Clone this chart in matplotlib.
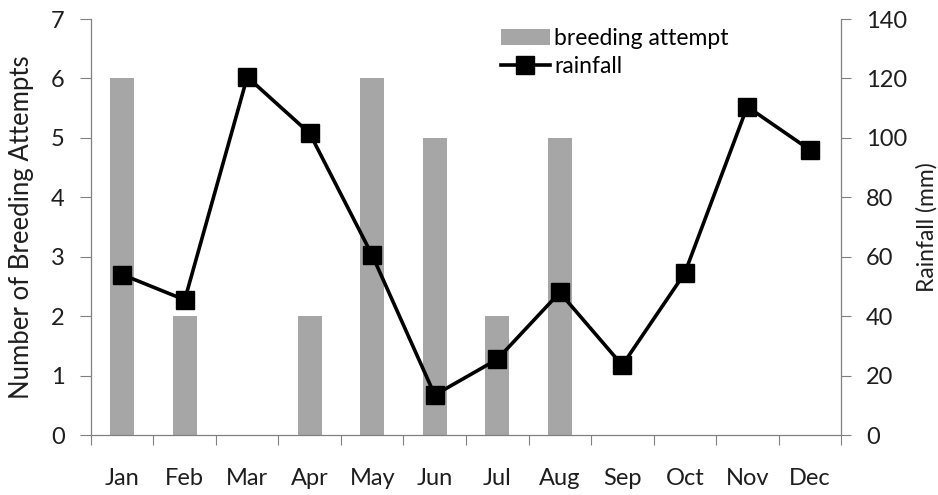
import numpy as np
import matplotlib
matplotlib.use("Agg")
import matplotlib.pyplot as plt

months = ["Jan", "Feb", "Mar", "Apr", "May", "Jun",
          "Jul", "Aug", "Sep", "Oct", "Nov", "Dec"]
breeding = [6, 2, 0, 2, 6, 5, 2, 5, 0, 0, 0, 0]
rainfall = [54, 45.5, 120.5, 101.5, 60.5, 13.5, 25.5, 48, 23.5, 54.5, 110.5, 96]

plt.rcParams["font.family"] = ["Lato", "DejaVu Sans"]
TXT = "#1e1e1e"

fig = plt.figure(figsize=(9.38, 4.95), dpi=100)
ax = fig.add_axes([0.097, 0.121, 0.7996, 0.8406])
x = np.arange(len(months))

ax.bar(x, breeding, width=0.38, color="#a6a6a6", label="breeding attempt", zorder=1)
ax.set_xlim(-0.5, len(months) - 0.5)
ax.set_ylim(0, 7)
ax.set_yticks(range(0, 8))
ax.set_ylabel("Number of Breeding Attempts", fontsize=18.5, labelpad=12, color=TXT)

ax2 = ax.twinx()
ax2.plot(x, rainfall, color="black", lw=2.6, marker="s", markersize=13.5,
         label="rainfall", zorder=3)
ax2.set_ylim(0, 140)
ax2.set_yticks(range(0, 141, 20))
ax2.set_ylabel("Rainfall (mm)", fontsize=16.5, labelpad=6, color=TXT)

# category boundaries as ticks, labels centred between
ax.set_xticks(np.arange(-0.5, len(months), 1.0))
ax.set_xticklabels([])
ax.set_xticks(x, minor=True)
ax.set_xticklabels(months, minor=True, fontsize=17, color=TXT)
ax.tick_params(axis="x", which="major", direction="out", length=7, color="#808080")
ax.tick_params(axis="x", which="minor", length=0, pad=24)
ax.tick_params(axis="y", direction="out", length=8, color="#808080", labelsize=17,
               labelcolor=TXT, pad=11)
ax2.tick_params(axis="y", direction="out", length=7, color="#808080", labelsize=17,
                labelcolor=TXT, pad=11)

for a in (ax, ax2):
    a.spines["top"].set_visible(False)
    for s in ("left", "right", "bottom"):
        a.spines[s].set_color("#808080")
        a.spines[s].set_linewidth(0.9)
ax.spines["right"].set_visible(False)
ax2.spines["left"].set_visible(False)
ax2.spines["bottom"].set_visible(False)

h1, l1 = ax.get_legend_handles_labels()
h2, l2 = ax2.get_legend_handles_labels()
ax2.legend(h1 + h2, l1 + l2, loc="upper left", bbox_to_anchor=(0.535, 1.0),
           frameon=False, fontsize=16.5, handlelength=2.1, handletextpad=0.2,
           labelspacing=0.3, borderaxespad=0, handleheight=0.7)

fig.savefig("out.png", dpi=100)
